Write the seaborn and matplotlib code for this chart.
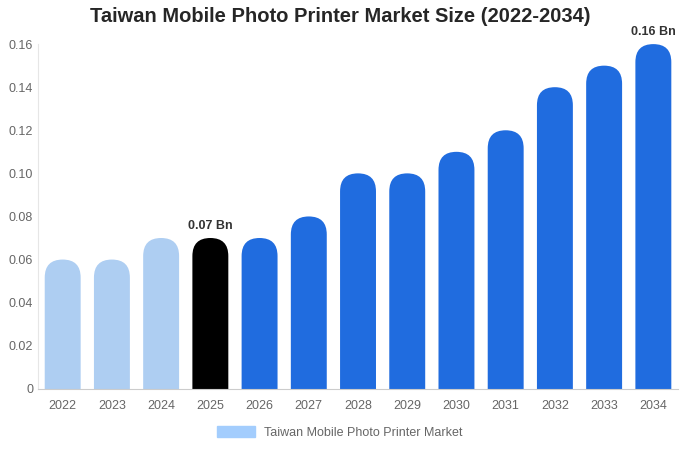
import matplotlib
matplotlib.use('Agg')
import matplotlib.pyplot as plt
import seaborn as sns
import pandas as pd
from matplotlib.patches import FancyBboxPatch, Patch

years = ['2022', '2023', '2024', '2025', '2026', '2027', '2028', '2029', '2030', '2031', '2032', '2033', '2034']
values = [0.06, 0.06, 0.07, 0.07, 0.07, 0.08, 0.10, 0.10, 0.11, 0.12, 0.14, 0.15, 0.16]
bar_colors = ['#a3cdfd'] * 3 + ['#000000'] + ['#0066ff'] * 9
labels = {3: '0.07 Bn', 12: '0.16 Bn'}

sns.set_style('white')
plt.rcParams['font.family'] = ['Liberation Sans', 'DejaVu Sans']

fig = plt.figure(figsize=(6.8, 4.5), dpi=100)
ax = fig.add_axes([0.056, 0.136, 0.941, 0.766])
df = pd.DataFrame({'year': years, 'value': values})
sns.barplot(data=df, x='year', y='value', hue='year', palette=bar_colors,
            legend=False, width=0.73, ax=ax)
ax.set_ylim(0, 0.16)
ax.set_xlim(-0.5, len(years) - 0.5)

# swap plain bars for rounded-top ones
rx = 0.365
ry = rx * 0.0229
for p in list(ax.patches):
    x, w, h = p.get_x(), p.get_width(), p.get_height()
    fc = p.get_facecolor()
    p.remove()
    ax.add_patch(FancyBboxPatch((x, -0.02), w, h + 0.02,
                                boxstyle=f'round,pad=0,rounding_size={rx}',
                                mutation_aspect=ry / rx, fc=fc, ec='none'))

for i, t in labels.items():
    ax.text(i, values[i] + 0.003, t, ha='center', va='bottom', fontsize=9,
            fontweight='bold', color='#333333', clip_on=False)

ax.set_yticks([0, 0.02, 0.04, 0.06, 0.08, 0.10, 0.12, 0.14, 0.16])
ax.set_yticklabels(['0', '0.02', '0.04', '0.06', '0.08', '0.10', '0.12', '0.14', '0.16'])
ax.tick_params(axis='both', labelsize=9, colors='#666666', length=0)
ax.tick_params(axis='x', pad=8)
ax.set_xlabel('')
ax.set_ylabel('')
for s in ['top', 'right']:
    ax.spines[s].set_visible(False)
ax.spines['left'].set_color('#e6e6e6')
ax.spines['bottom'].set_color('#cccccc')

fig.suptitle('Taiwan Mobile Photo Printer Market Size (2022-2034)', x=0.5, y=0.985,
             fontsize=14.5, fontweight='bold')
fig.legend(handles=[Patch(color='#a3cdfd', label='Taiwan Mobile Photo Printer Market')],
           loc='lower center', bbox_to_anchor=(0.5, 0.0), frameon=False, fontsize=9,
           labelcolor='#666666', handlelength=3, handleheight=0.9)
fig.savefig('out.png', dpi=100)
